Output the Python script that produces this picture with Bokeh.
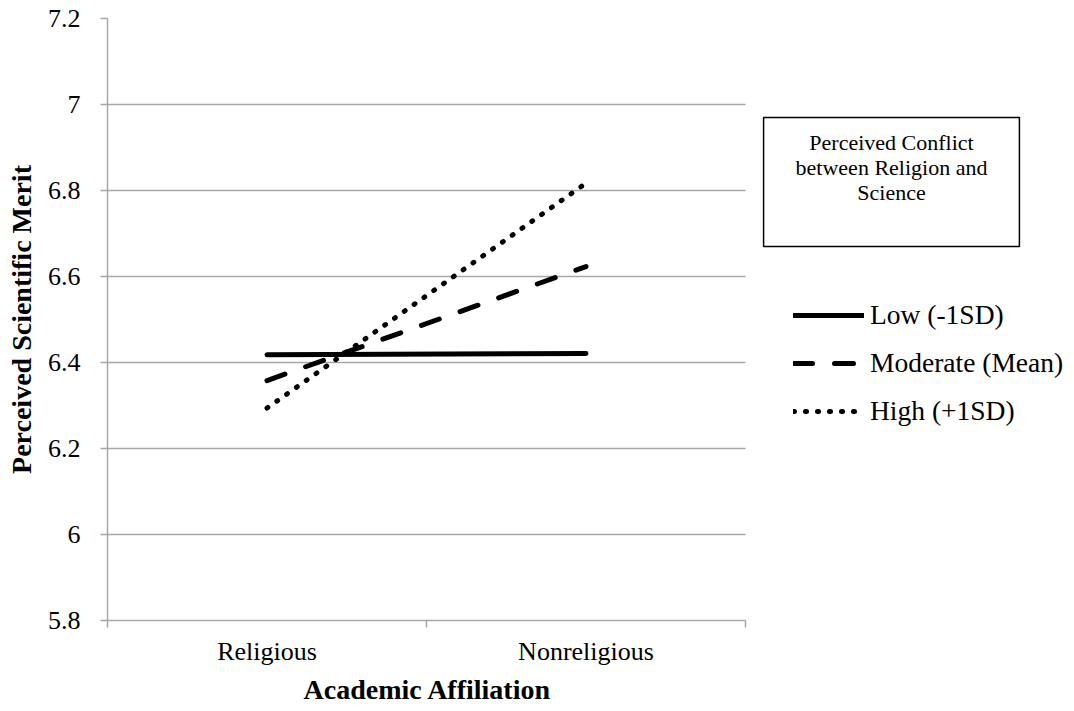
from bokeh.plotting import figure
from bokeh.models import FixedTicker, Legend, LegendItem, Label, Range1d, Title
from bokeh.embed import file_html
from bokeh.resources import INLINE

# ---- data ----
categories = ["Religious", "Nonreligious"]
series_names = ["Low (-1SD)", "Moderate (Mean)", "High (+1SD)"]
low = [6.418, 6.421]
moderate = [6.358, 6.623]
high = [6.294, 6.817]
y_ticks = [5.8, 6.0, 6.2, 6.4, 6.6, 6.8, 7.0, 7.2]
y_tick_labels = ["5.8", "6", "6.2", "6.4", "6.6", "6.8", "7", "7.2"]
legend_title = "Perceived Conflict\nbetween Religion and\nScience"
x_title = "Academic Affiliation"
y_title = "Perceived Scientific Merit"

FONT = "Liberation Serif"
GRID = "#a6a6a6"

DATA_W = 638          # pixel width of the plotting area proper
FRAME_W = 963         # frame also hosts the legend on its right
n = len(categories)
x_pos = [i + 0.5 for i in range(n)]

p = figure(
    frame_width=FRAME_W, frame_height=602,
    min_border_left=107, min_border_right=0, min_border_top=18, min_border_bottom=83,
    x_range=Range1d(0, n * FRAME_W / DATA_W), y_range=Range1d(y_ticks[0], y_ticks[-1]),
    output_backend="svg", toolbar_location=None,
)
p.outline_line_color = None
p.background_fill_color = "white"
p.border_fill_color = "white"

# x axis
xa = p.xaxis[0]
xa.bounds = (0, n)
xa.ticker = FixedTicker(ticks=x_pos, minor_ticks=list(range(n + 1)))
xa.major_label_overrides = {x: c for x, c in zip(x_pos, categories)}
xa.major_tick_out = 0
xa.major_tick_in = 0
xa.minor_tick_out = 7
xa.minor_tick_in = 0
xa.minor_tick_line_color = GRID
xa.minor_tick_line_width = 1.5
xa.axis_line_color = GRID
xa.axis_line_width = 1.5
xa.major_label_text_font = FONT
xa.major_label_text_font_size = "26px"
xa.major_label_text_color = "black"
xa.major_label_standoff = 9

# x axis title, centred under the data area
p.add_layout(Title(
    text=x_title, align="left", offset=196, vertical_align="top", standoff=11,
    text_font=FONT, text_font_size="28px", text_font_style="bold", text_color="black",
), "below")

# y axis
ya = p.yaxis[0]
ya.ticker = FixedTicker(ticks=y_ticks, minor_ticks=[])
ya.major_label_overrides = {t: l for t, l in zip(y_ticks, y_tick_labels)}
ya.major_tick_out = 7
ya.major_tick_in = 0
ya.major_tick_line_color = GRID
ya.major_tick_line_width = 1.5
ya.axis_line_color = GRID
ya.axis_line_width = 1.5
ya.major_label_text_font = FONT
ya.major_label_text_font_size = "26px"
ya.major_label_text_color = "black"
ya.major_label_standoff = 20
ya.axis_label = y_title
ya.axis_label_text_font = FONT
ya.axis_label_text_font_size = "28px"
ya.axis_label_text_font_style = "bold"
ya.axis_label_text_color = "black"
ya.axis_label_standoff = 8

p.xgrid.visible = False
p.ygrid.ticker = FixedTicker(ticks=y_ticks)
p.ygrid.cross_bounds = (0, n)
p.ygrid.grid_line_color = GRID
p.ygrid.grid_line_width = 1.5

# lines
styles = [
    dict(line_dash="solid", line_width=5),
    dict(line_dash="19 22", line_width=5),
    dict(line_dash="1 11", line_width=5),
]
renderers = []
for vals, st in zip([low, moderate, high], styles):
    r = p.line(x_pos, vals, line_color="black", line_cap="round", **st)
    renderers.append(r)

legend = Legend(
    items=[LegendItem(label=nm, renderers=[r]) for nm, r in zip(series_names, renderers)],
    location=(686, 193),
    padding=0, margin=0,
    border_line_color=None, background_fill_alpha=0,
    glyph_width=71, glyph_height=30, label_height=30, spacing=16,
    label_standoff=6,
    label_text_font=FONT, label_text_font_size="27.5px", label_text_color="black",
)
p.add_layout(legend)

title_box = Label(
    x=784, y=503, x_units="screen", y_units="screen",
    text=legend_title, text_align="center", text_baseline="top",
    text_font=FONT, text_font_size="22px", text_color="black",
    text_line_height=1.0,
    border_line_color="black", border_line_width=1.5,
    background_fill_color="white",
    padding=dict(left=32, right=32, top=12, bottom=42),
)
p.add_layout(title_box)

open("out.html", "w").write(file_html(p, INLINE))
